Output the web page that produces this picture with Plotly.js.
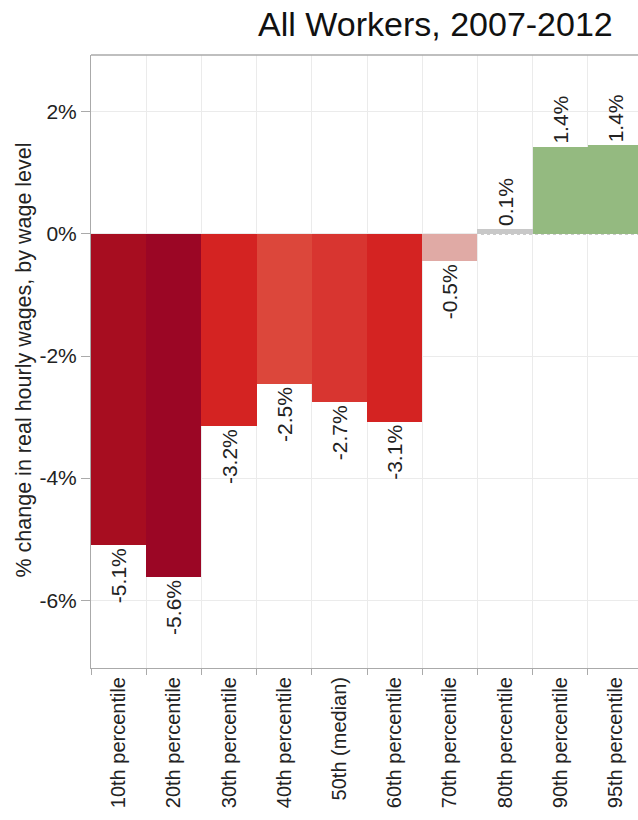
<!DOCTYPE html>
<html><head><meta charset="utf-8">
<script src="https://cdn.plot.ly/plotly-3.0.1.min.js"></script>
<style>html,body{margin:0;padding:0;overflow:hidden;background:#fff}</style>
</head><body>
<div id="chart" style="width:643px;height:820px"></div>
<script>
var categories = ["10th percentile","20th percentile","30th percentile","40th percentile","50th (median)","60th percentile","70th percentile","80th percentile","90th percentile","95th percentile"];
var values = [-5.1, -5.62, -3.15, -2.46, -2.76, -3.08, -0.45, 0.08, 1.43, 1.45];
var labels = ["-5.1%","-5.6%","-3.2%","-2.5%","-2.7%","-3.1%","-0.5%","0.1%","1.4%","1.4%"];
var colors = ["#a70d20","#9b0625","#d42322","#dc473b","#d83530","#d42322","#e0aaa5","#c8c8c8","#94ba80","#94ba80"];
var yTickVals = [2, 0, -2, -4, -6];
var yTickText = ["2%","0%","-2%","-4%","-6%"];
var yTitle = '% change in real hourly wages, by wage level';

var trace = {
  type: 'bar', x: categories, y: values, marker: {color: colors, line: {width: 0}},
  text: labels, textposition: 'outside', textangle: -90, constraintext: 'none',
  textfont: {family: 'Liberation Sans, Arial, sans-serif', size: 21, color: '#222'},
  cliponaxis: false, hoverinfo: 'none'
};
var layout = {
  width: 643, height: 820,
  margin: {l: 91, r: 0, t: 55, b: 152},
  paper_bgcolor: '#fff', plot_bgcolor: '#fff',
  bargap: 0, showlegend: false,
  font: {family: 'Liberation Sans, Arial, sans-serif', color: '#222'},
  title: {text: 'All Workers, 2007-2012', x: 0.953, xanchor: 'right', y: 0.985, yanchor: 'top',
          font: {size: 34, color: '#111'}},
  xaxis: {type: 'category', tickson: 'boundaries', ticks: 'outside', ticklen: 6, tickcolor: '#aaa',
          showgrid: true, gridcolor: '#ebebeb', showline: true, linecolor: '#aaa', linewidth: 1,
          tickangle: -90, tickfont: {size: 20, color: '#222'}, range: [-0.5, 9.5]},
  yaxis: {range: [-7.11, 2.93], tickvals: yTickVals, ticktext: yTickText, ticks: 'outside', ticklen: 9,
          tickcolor: '#aaa', showgrid: true, gridcolor: '#ebebeb', zeroline: false,
          showline: true, linecolor: '#aaa', linewidth: 1, tickfont: {size: 21, color: '#222'}},
  annotations: [
    {text: yTitle, xref: 'paper', yref: 'paper', x: 0, y: 0.5, xanchor: 'center', yanchor: 'middle',
     xshift: -68, yshift: 1, textangle: -90, showarrow: false, font: {size: 21.5, color: '#222'}}
  ],
  shapes: [
    {type: 'line', xref: 'paper', yref: 'paper', x0: 0, x1: 1, y0: 1, y1: 1, line: {color: '#aaa', width: 1.5}},
    {type: 'line', xref: 'paper', yref: 'y', x0: 0, x1: 1, y0: 0, y1: 0, layer: 'below', line: {color: '#bbb', width: 1.5, dash: 'dot'}}
  ]
};
Plotly.newPlot('chart', [trace], layout, {displayModeBar: false, staticPlot: true});
</script>
</body></html>
